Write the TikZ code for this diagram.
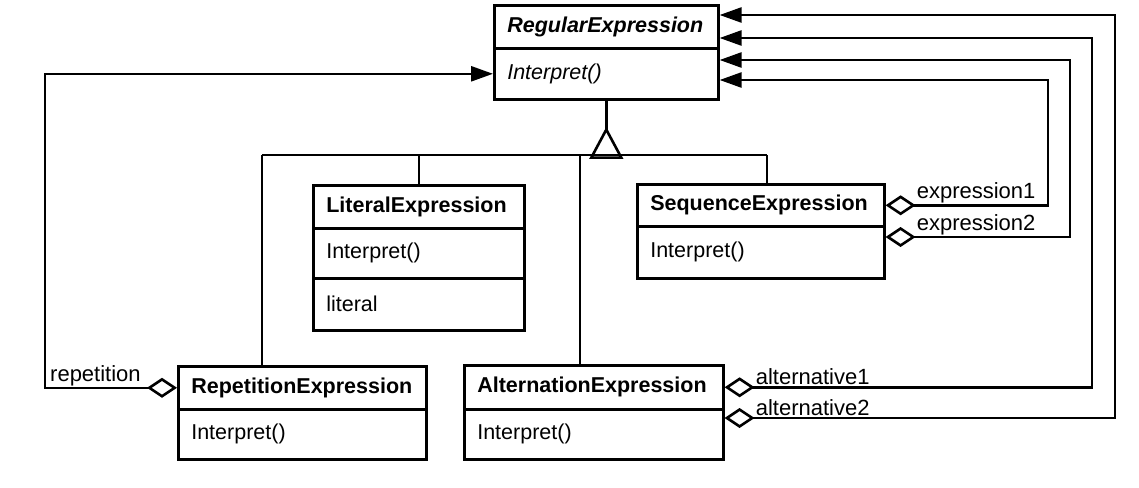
\documentclass[tikz,border=0pt]{standalone}
\usepackage{fontspec}
\setmainfont{Liberation Sans}
\usetikzlibrary{arrows.meta}
\begin{document}
\begin{tikzpicture}[x=1pt,y=-1pt,
  comp/.style={draw, line width=2.6pt, anchor=north west, inner xsep=13pt, inner ysep=0pt,
    align=left, font=\fontsize{21.5}{25}\selectfont},
  conn/.style={line width=2.6pt},
  agg/.style={conn, {Diamond[open,length=30pt,width=20pt,line width=2.6pt]}-{Triangle[length=22pt,width=15pt]}},
  lbl/.style={anchor=south west, inner sep=0pt, font=\fontsize{22}{25}\selectfont}]
\useasboundingbox (0,0) rectangle (1139,487);

% RegularExpression
\node[comp, text width=198pt, minimum height=43pt] (reH) at (493,4) {\textbf{\textit{RegularExpression}}};
\node[comp, text width=198pt, minimum height=51pt] (reM) at (493,47) {\textit{Interpret()}};

% LiteralExpression
\node[comp, text width=185pt, minimum height=43pt] (litH) at (312,184) {\textbf{LiteralExpression}};
\node[comp, text width=185pt, minimum height=50pt] (litM) at (312,227) {Interpret()};
\node[comp, text width=185pt, minimum height=52pt] (litA) at (312,277) {literal};

% SequenceExpression
\node[comp, text width=221pt, minimum height=42pt] (seqH) at (636,183) {\textbf{SequenceExpression}};
\node[comp, text width=221pt, minimum height=52pt] (seqM) at (636,225) {Interpret()};

% RepetitionExpression
\node[comp, text width=222pt, minimum height=43pt] (repH) at (177,365) {\textbf{RepetitionExpression}};
\node[comp, text width=222pt, minimum height=50pt] (repM) at (177,408) {Interpret()};

% AlternationExpression
\node[comp, text width=233pt, minimum height=44pt] (altH) at (463,364) {\textbf{AlternationExpression}};
\node[comp, text width=233pt, minimum height=50pt] (altM) at (463,408) {Interpret()};

% inheritance
\coordinate (apex) at ([yshift=-29pt]reM.south);
\draw[conn] (reM.south) -- (apex);
\draw[conn, line join=miter] (apex) -- ++(-15,28) -- ++(30,0) -- cycle;
\coordinate (bl) at (262,155);
\coordinate (br) at (767,155);
\coordinate (bm) at (580,155);
\draw[conn] (bl) -- (br);
\draw[conn] (bl) -- (bl |- repH.north);
\draw[conn] (litH.north) -- (litH.north |- bl);
\draw[conn] (br) -- (br |- seqH.north);
\draw[conn] (bm) -- (bm |- altH.north);

% targets on RegularExpression
\coordinate (t1) at ([yshift=-11pt]reH.north east);
\coordinate (t2) at ([yshift=-34pt]reH.north east);
\coordinate (t3) at ([yshift=-13pt]reM.north east);
\coordinate (t4) at ([yshift=-33pt]reM.north east);
\coordinate (c1) at (1048,0);
\coordinate (c2) at (1070,0);
\coordinate (c3) at (1092,0);
\coordinate (c4) at (1115,0);
\coordinate (c5) at (45,0);
\coordinate (s2) at ([yshift=-12pt]seqM.north east);
\coordinate (a2) at ([yshift=-10pt]altM.north east);

% aggregations
\draw[agg] (seqH.east) -| (c1 |- t4) -- (t4);
\draw[agg] (s2) -| (c2 |- t3) -- (t3);
\draw[agg] (altH.east) -| (c3 |- t2) -- (t2);
\draw[agg] (a2) -| (c4 |- t1) -- (t1);
\draw[agg] (repH.west) -| (c5 |- reM.west) -- (reM.west);

% labels
\node[lbl] (l1) at ([xshift=31pt,yshift=2pt]seqH.east) {expression1};
\node[lbl] (l2) at ([xshift=31pt,yshift=2pt]s2) {expression2};
\node[lbl] (l3) at ([xshift=31pt,yshift=2pt]altH.east) {alternative1};
\node[lbl] (l4) at ([xshift=31pt,yshift=2pt]a2) {alternative2};
\node[lbl] (l5) at ([xshift=5pt,yshift=2pt]repH.west -| c5) {repetition};
\end{tikzpicture}
\end{document}
